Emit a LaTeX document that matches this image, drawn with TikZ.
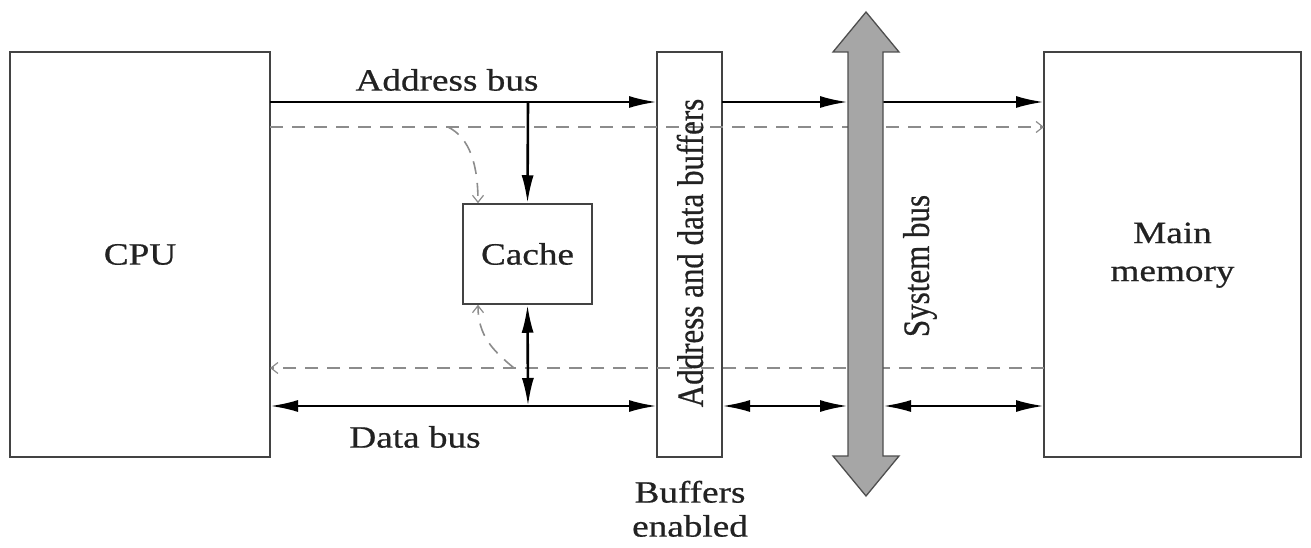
\documentclass[tikz,border=0pt]{standalone}
\usepackage{fontspec}
\setmainfont{Liberation Serif}[FakeBold=0.6]
\usetikzlibrary{arrows.meta}
\newcommand\hs[1]{\scalebox{1.2}[1]{#1}}
\newcommand\vs[1]{\scalebox{1}[1.2]{#1}}
\definecolor{busgray}{HTML}{A6A6A6}
\definecolor{dashgray}{HTML}{8C8C8C}
\definecolor{inkc}{HTML}{222222}
\begin{document}
\begin{tikzpicture}[x=1pt,y=-1pt,
  box/.style={draw=inkc!85,line width=1.5pt,inner sep=0pt,text=inkc},
  lbl/.style={text=inkc,inner sep=0pt,font=\fontsize{31}{38}\selectfont},
  solidarr/.style={line width=2.6pt,-{Latex[length=28pt,width=12pt]}},
  bothar/.style={line width=2.6pt,{Latex[length=28pt,width=12pt]}-{Latex[length=28pt,width=12pt]}},
  dashln/.style={draw=dashgray,line width=1.6pt,dash pattern=on 13pt off 9pt},
  openhead/.style={-{Straight Barb[length=7pt,width=11pt,line width=1.2pt]}}
]
\path[use as bounding box] (0,0) rectangle (1311,548);

% boxes
\node[box,minimum width=260pt,minimum height=405pt,font=\fontsize{31}{38}\selectfont] (cpu) at (140,254.5) {\hs{CPU}};
\node[box,minimum width=65pt,minimum height=405pt] (buf) at (689.5,254.5) {};
\node[box,minimum width=257pt,minimum height=405pt,font=\fontsize{31}{38}\selectfont] (mem) at (1172.5,254.5) {\hs{\begin{tabular}{@{}c@{}}Main\\[0pt]memory\end{tabular}}};
\node[box,minimum width=129pt,minimum height=100pt,font=\fontsize{31}{38}\selectfont] (cache) at (527.5,254) {\hs{Cache}};

% coordinates
\coordinate (aL) at (270,102);
\coordinate (aJ) at (528,102);
\coordinate (aB) at (657,102);
\coordinate (aB2) at (722,102);
\coordinate (busLa) at (848,102);
\coordinate (busRa) at (883,102);
\coordinate (memA) at (1044,102);
\coordinate (dL) at (270,406);
\coordinate (dJ) at (528,406);
\coordinate (dB) at (657,406);
\coordinate (dB2) at (722,406);
\coordinate (busLd) at (848,406);
\coordinate (busRd) at (883,406);
\coordinate (memD) at (1044,406);
\coordinate (c1L) at (270,127);
\coordinate (c1R) at (1044,127);
\coordinate (c2L) at (270,368);
\coordinate (c2R) at (1044,368);
\coordinate (q1) at (448,127);
\coordinate (q2) at (514,368);

% dashed control lines
\draw[dashln,openhead] (c1L) -- (c1R);
\draw[dashln,openhead] (c2R) -- (c2L);
\draw[dashln,openhead] (q1) .. controls (470,138) and (478,165) .. (cache.north west -| 478,0);
\draw[dashln,openhead] (q2) .. controls (492,350) and (478,335) .. (cache.south west -| 478,0);

% solid buses
\draw[solidarr] (aL) -- (aB);
\draw[solidarr] (aJ) -- (cache.north);
\draw[bothar] (dL) -- (dB);
\draw[bothar] (cache.south) -- (dJ);
\draw[solidarr] (aB2) -- (busLa);
\draw[solidarr] (busRa) -- (memA);
\draw[bothar] (dB2) -- (busLd);
\draw[bothar] (busRd) -- (memD);

% system bus arrow
\draw[fill=busgray,draw=inkc!80,line width=1.3pt,line join=miter]
  (848,52) -- (833,52) -- (866,12) -- (899,52) -- (883,52) -- (883,456)
  -- (899,456) -- (866,496) -- (833,456) -- (848,456) -- cycle;

% labels
\node[lbl] (addrlbl) at (447,80) {\hs{Address bus}};
\node[lbl] (datalbl) at (415,437) {\hs{Data bus}};
\node[lbl,rotate=90] (buflbl) at (690,253) {\vs{Address and data buffers}};
\node[lbl,rotate=90] (syslbl) at (920,266) {\vs{System bus}};
\node[lbl,align=center] (enlbl) at (690,512) {\hs{\begin{tabular}{@{}c@{}}Buffers\\[-4pt]enabled\end{tabular}}};
\end{tikzpicture}
\end{document}
